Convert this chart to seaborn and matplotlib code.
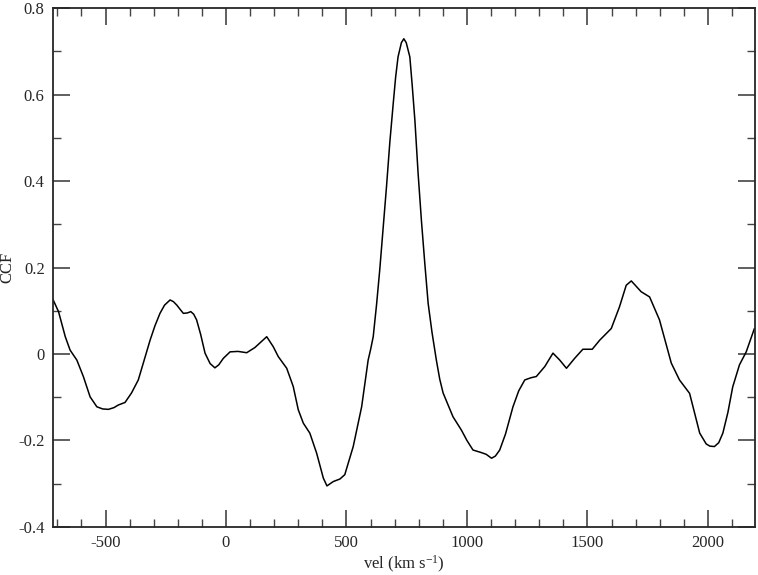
import seaborn as sns
import pandas as pd
import matplotlib.pyplot as plt
from matplotlib.ticker import MultipleLocator

# values
vel = [-718, -695, -667, -647, -619, -592, -564, -536, -512, -488, -465, -447, -419,
       -392, -364, -340, -315, -295, -274, -255, -232, -218, -204, -190, -177, -160,
       -146, -134, -122, -105, -87, -66, -46, -30, -11, 17, 50, 86, 120, 169, 196,
       217, 252, 279, 300, 321, 348, 376, 404, 419, 445, 473, 493, 528, 563, 590,
       600, 611, 625, 638, 652, 666, 680, 694, 704, 714, 728, 738, 748, 763, 773,
       784, 797, 811, 825, 839, 855, 873, 887, 901, 942, 977, 1000, 1025, 1060,
       1080, 1102, 1118, 1136, 1160, 1191, 1215, 1240, 1265, 1288, 1323, 1357,
       1385, 1413, 1447, 1481, 1520, 1551, 1599, 1633, 1661, 1682, 1723, 1758,
       1799, 1848, 1882, 1924, 1966, 1993, 2008, 2027, 2045, 2062, 2083, 2103,
       2131, 2159, 2193]
ccf = [0.126, 0.098, 0.040, 0.009, -0.014, -0.052, -0.099, -0.122, -0.127, -0.128,
       -0.124, -0.118, -0.112, -0.090, -0.060, -0.015, 0.032, 0.065, 0.094, 0.113,
       0.125, 0.121, 0.113, 0.103, 0.094, 0.095, 0.098, 0.092, 0.079, 0.045,
       0.002, -0.022, -0.032, -0.025, -0.010, 0.005, 0.006, 0.003, 0.015, 0.040,
       0.017, -0.006, -0.033, -0.075, -0.129, -0.160, -0.183, -0.229, -0.287,
       -0.305, -0.295, -0.289, -0.279, -0.214, -0.122, -0.014, 0.010, 0.040, 0.115,
       0.194, 0.290, 0.386, 0.490, 0.579, 0.640, 0.687, 0.720, 0.729, 0.720, 0.687,
       0.620, 0.540, 0.420, 0.309, 0.210, 0.117, 0.050, -0.014, -0.058, -0.090,
       -0.145, -0.176, -0.200, -0.222, -0.228, -0.232, -0.241, -0.236, -0.222,
       -0.185, -0.122, -0.085, -0.060, -0.055, -0.052, -0.029, 0.002, -0.014,
       -0.033, -0.010, 0.011, 0.011, 0.032, 0.059, 0.109, 0.159, 0.169, 0.144,
       0.132, 0.079, -0.021, -0.060, -0.091, -0.183, -0.208, -0.213, -0.214,
       -0.205, -0.183, -0.135, -0.076, -0.025, 0.005, 0.059]

data = pd.DataFrame({"vel": vel, "CCF": ccf})

sns.set_style("ticks")
plt.rcParams["font.family"] = ["Liberation Serif", "DejaVu Serif"]
plt.rcParams["mathtext.fontset"] = "custom"
plt.rcParams["mathtext.rm"] = "Liberation Serif"
plt.rcParams["mathtext.default"] = "regular"
plt.rcParams["axes.unicode_minus"] = False

fig = plt.figure(figsize=(7.58, 5.75), dpi=100)
ax = fig.add_axes([0.0699, 0.0835, 0.926, 0.9025])
sns.lineplot(data, x="vel", y="CCF", color="black", linewidth=1.1, ax=ax)

ax.set_xlim(-718, 2195)
ax.set_ylim(-0.4, 0.8)
ax.xaxis.set_major_locator(MultipleLocator(500))
ax.xaxis.set_minor_locator(MultipleLocator(100))
ax.yaxis.set_major_locator(MultipleLocator(0.2))
ax.yaxis.set_minor_locator(MultipleLocator(0.1))
ax.yaxis.set_major_formatter(plt.FuncFormatter(lambda v, p: "0" if abs(v) < 1e-9 else f"{v:.1f}"))
ax.tick_params(which="both", direction="in", top=True, right=True, labelsize=12, color="#444444")
ax.tick_params(which="major", length=12, width=1.2, pad=6)
ax.tick_params(which="minor", length=6, width=1.0)
for s in ax.spines.values():
    s.set_linewidth(1.3)

ax.set_xlabel("vel (km s$^{-1}$)", fontsize=12, labelpad=2)
ax.set_ylabel("CCF", fontsize=12, labelpad=2)

plt.savefig("out.png", dpi=100)
